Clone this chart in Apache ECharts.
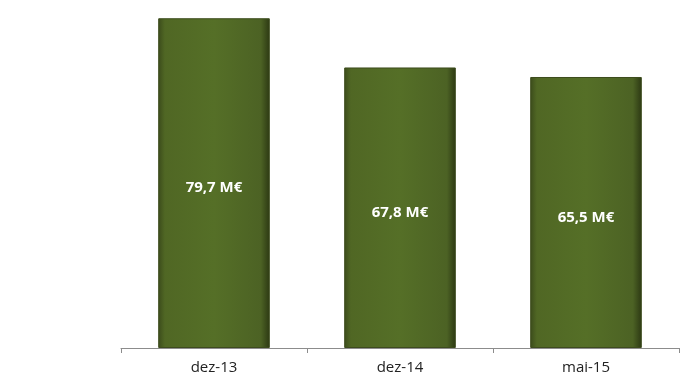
<!DOCTYPE html>
<html><head><meta charset="utf-8">
<script src="https://cdn.jsdelivr.net/npm/echarts@6/dist/echarts.min.js"></script>
<style>html,body{margin:0;padding:0;background:#fff}#c{width:689px;height:381px}</style>
</head><body><div id="c"></div>
<script>
const categories = ['dez-13', 'dez-14', 'mai-15'];
const values = [79.7, 67.8, 65.5];
const labels = ['79,7 M€', '67,8 M€', '65,5 M€'];

const chart = echarts.init(document.getElementById('c'));
chart.setOption({
  animation: false,
  grid: { left: 121, right: 10, top: 17, bottom: 33 },
  xAxis: {
    type: 'category', data: categories,
    axisLine: { lineStyle: { color: '#8c8c8c', width: 1 } },
    axisTick: { show: true, length: 5, lineStyle: { color: '#8c8c8c' } },
    axisLabel: { color: '#222', fontSize: 15, fontFamily: 'Open Sans', margin: 12 }
  },
  yAxis: { type: 'value', min: 0, max: 80, show: false, splitLine: { show: false } },
  series: [{
    type: 'bar', data: values, barWidth: '60%',
    itemStyle: {
      color: new echarts.graphic.LinearGradient(0, 0, 1, 0, [
        { offset: 0, color: '#3b4b1b' },
        { offset: 0.06, color: '#506724' },
        { offset: 0.5, color: '#556f27' },
        { offset: 0.92, color: '#4c6224' },
        { offset: 1, color: '#2c3813' }
      ]),
      borderColor: '#3d4c1d', borderWidth: 1
    },
    label: {
      show: true, position: 'inside', offset: [0, 5],
      formatter: p => labels[p.dataIndex],
      color: '#fff', fontSize: 15, fontWeight: 'bold', fontFamily: 'Open Sans'
    }
  }]
});
</script></body></html>
